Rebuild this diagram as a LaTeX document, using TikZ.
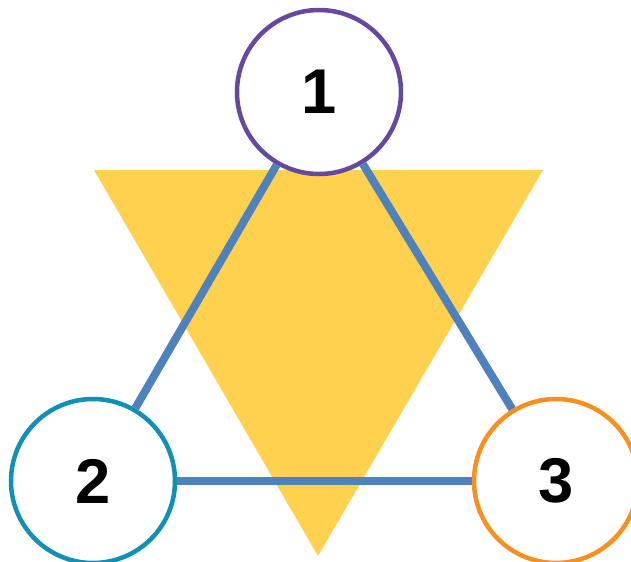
\documentclass[tikz,border=0pt]{standalone}
\usepackage{fontspec}
\setmainfont{Liberation Sans}
\definecolor{vertexone}{HTML}{634A9E}
\definecolor{vertextwo}{HTML}{1190B5}
\definecolor{vertexthree}{HTML}{F7901E}
\definecolor{edgeblue}{HTML}{4F81BD}
\definecolor{faceyellow}{HTML}{FFD14F}
\tikzset{
  vertex/.style={circle,draw,line width=0.045cm,fill=white,minimum size=1.64cm,inner sep=0pt,font=\fontsize{18}{20}\selectfont\bfseries},
  edge/.style={draw=edgeblue,line width=0.08cm}
}
\begin{document}
\begin{tikzpicture}
\useasboundingbox (0,0) rectangle (6.31,5.62);
\fill [faceyellow] (0.94,3.92) -- (5.43,3.92) -- (3.18,0.06) -- cycle;
\node [vertex,draw=vertexone] (v1) at (3.19,4.70) {1};
\node [vertex,draw=vertextwo] (v2) at (0.93,0.81) {2};
\node [vertex,draw=vertexthree] (v3) at (5.56,0.81) {3};
\draw [edge] (v1) -- (v2);
\draw [edge] (v2) -- (v3);
\draw [edge] (v3) -- (v1);
\end{tikzpicture}
\end{document}
